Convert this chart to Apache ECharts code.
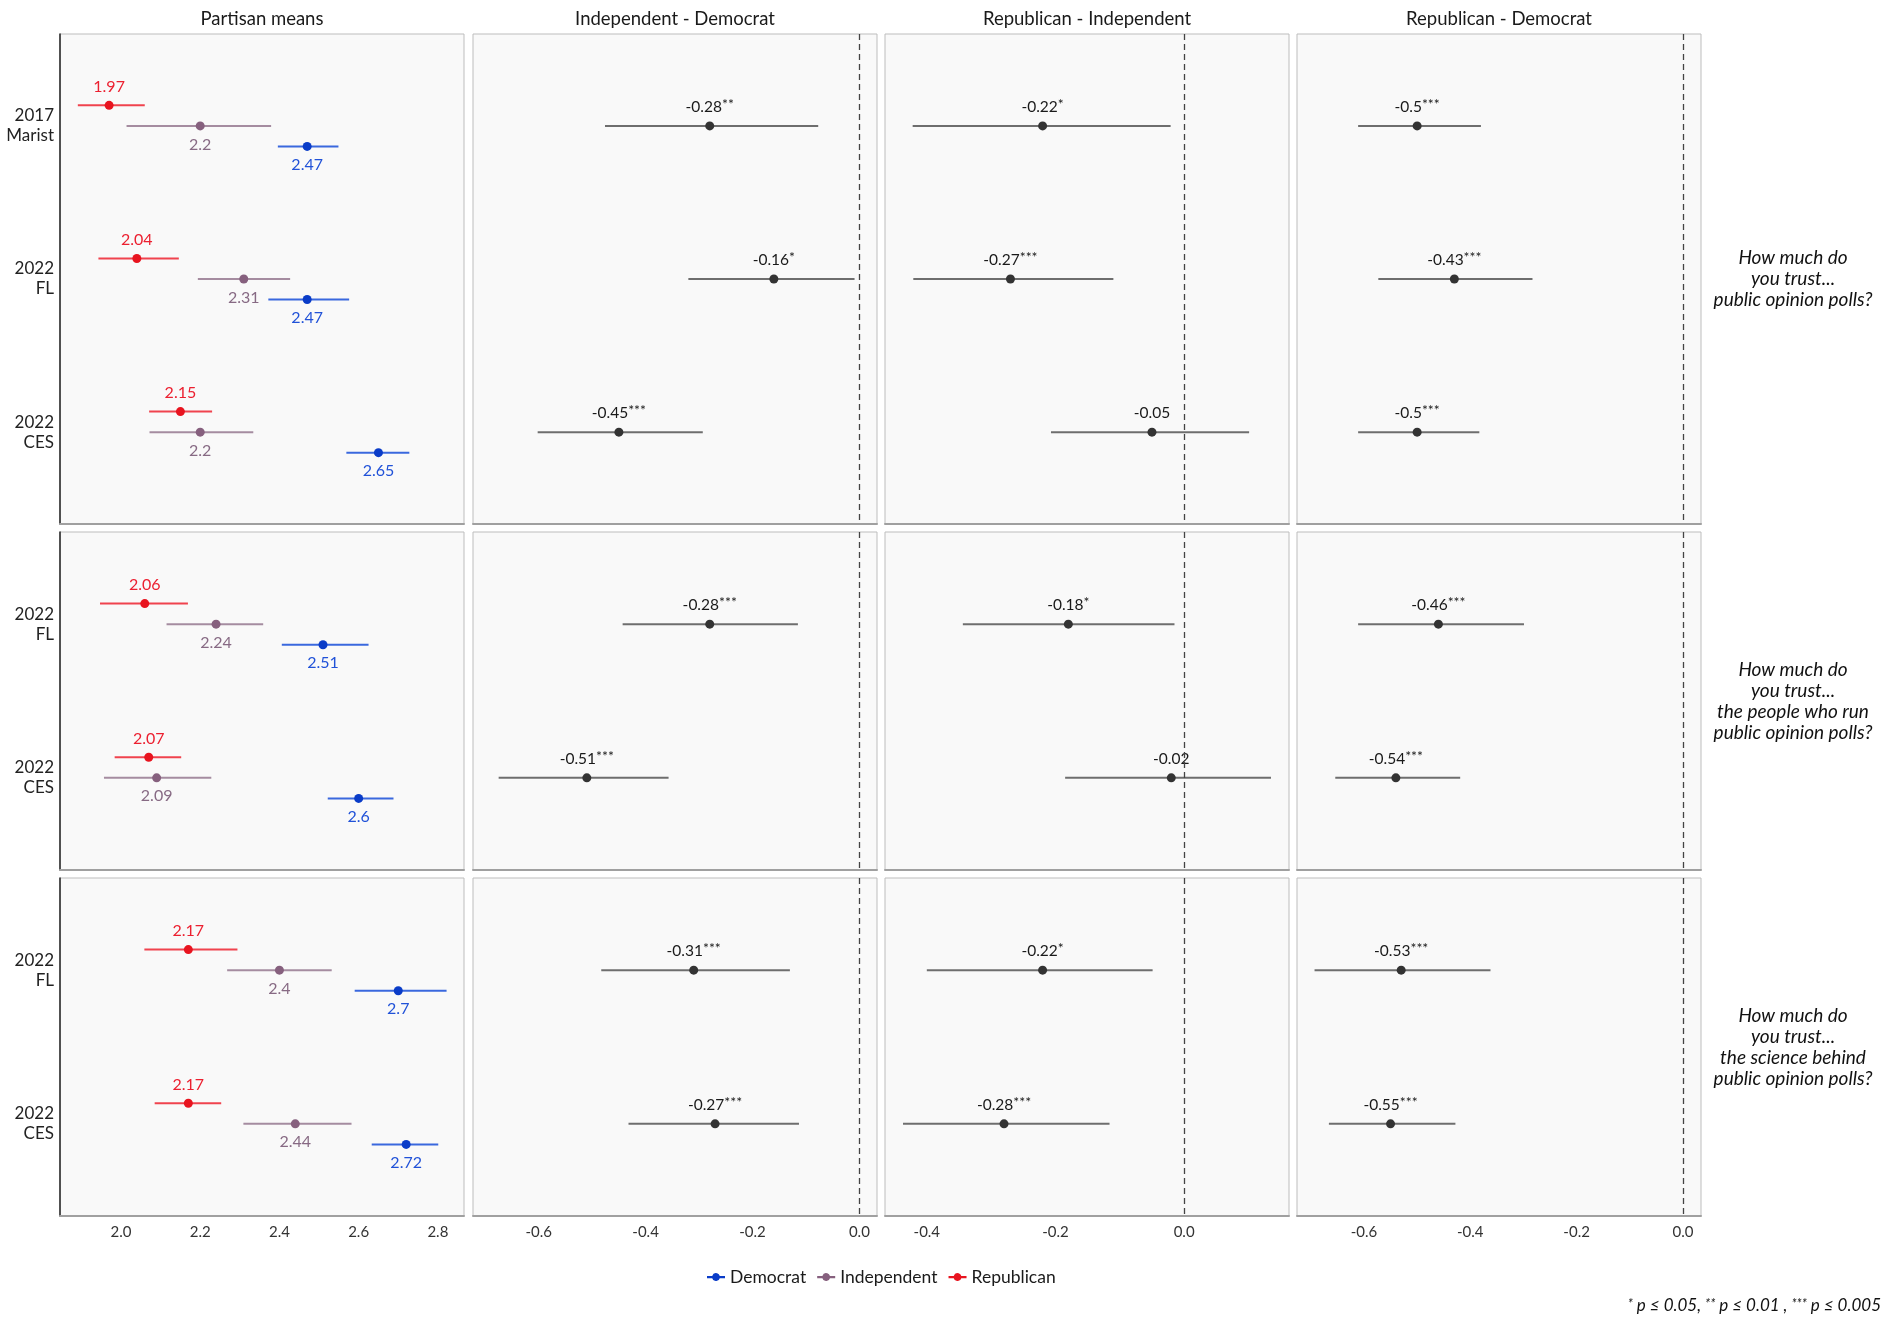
<!DOCTYPE html>
<html>
<head>
<meta charset="utf-8">
<script src="https://cdn.jsdelivr.net/npm/echarts@6/dist/echarts.min.js"></script>
<style>
html, body { margin: 0; background: #fff; }
#chart { width: 1883px; height: 1322px; }
</style>
</head>
<body>
<div id="chart"></div>
<script>
var chart = echarts.init(document.getElementById('chart'));

// ---- data ----
var facetTitles = ['Partisan means', 'Independent - Democrat', 'Republican - Independent', 'Republican - Democrat'];
var questions = [
    'How much do\nyou trust...\npublic opinion polls?',
    'How much do\nyou trust...\nthe people who run\npublic opinion polls?',
    'How much do\nyou trust...\nthe science behind\npublic opinion polls?'
];
var rowCats = [
    ['2017\nMarist', '2022\nFL', '2022\nCES'],
    ['2022\nFL', '2022\nCES'],
    ['2022\nFL', '2022\nCES']
];
var parties = ['Democrat', 'Independent', 'Republican'];

var demMean = [[2.47, 2.47, 2.65], [2.51, 2.6], [2.7, 2.72]];
var demLo   = [[2.396, 2.372, 2.569], [2.406, 2.522], [2.590, 2.633]];
var demHi   = [[2.549, 2.576, 2.728], [2.625, 2.688], [2.822, 2.801]];

var indMean = [[2.2, 2.31, 2.2], [2.24, 2.09], [2.4, 2.44]];
var indLo   = [[2.014, 2.194, 2.072], [2.115, 1.957], [2.268, 2.309]];
var indHi   = [[2.379, 2.427, 2.334], [2.359, 2.228], [2.532, 2.582]];

var repMean = [[1.97, 2.04, 2.15], [2.06, 2.07], [2.17, 2.17]];
var repLo   = [[1.891, 1.943, 2.071], [1.947, 1.984], [2.059, 2.085]];
var repHi   = [[2.060, 2.146, 2.230], [2.169, 2.152], [2.294, 2.253]];

var indDemEst   = [[-0.28, -0.16, -0.45], [-0.28, -0.51], [-0.31, -0.27]];
var indDemLo    = [[-0.476, -0.320, -0.602], [-0.443, -0.675], [-0.483, -0.432]];
var indDemHi    = [[-0.077, -0.009, -0.293], [-0.115, -0.357], [-0.130, -0.113]];
var indDemStars = [['**', '*', '***'], ['***', '***'], ['***', '***']];

var repIndEst   = [[-0.22, -0.27, -0.05], [-0.18, -0.02], [-0.22, -0.28]];
var repIndLo    = [[-0.422, -0.421, -0.207], [-0.344, -0.185], [-0.400, -0.437]];
var repIndHi    = [[-0.021, -0.110, 0.101], [-0.015, 0.135], [-0.049, -0.116]];
var repIndStars = [['*', '***', ''], ['*', ''], ['*', '***']];

var repDemEst   = [[-0.5, -0.43, -0.5], [-0.46, -0.54], [-0.53, -0.55]];
var repDemLo    = [[-0.611, -0.573, -0.611], [-0.611, -0.654], [-0.693, -0.666]];
var repDemHi    = [[-0.380, -0.283, -0.383], [-0.299, -0.419], [-0.362, -0.428]];
var repDemStars = [['***', '***', '***'], ['***', '***'], ['***', '***']];

var xTicks = [
    [2.0, 2.2, 2.4, 2.6, 2.8],
    [-0.6, -0.4, -0.2, 0.0],
    [-0.4, -0.2, 0.0],
    [-0.6, -0.4, -0.2, 0.0]
];

// ---- layout / style ----
var FONT = 'Lato';
var panelLeft = [60, 473, 885, 1297], panelWidth = 404;
var panelTop = [34, 532, 878], panelHeight = [490, 338, 338];
var xMin = [1.846, -0.723, -0.465, -0.726];
var xMax = [2.866, 0.033, 0.163, 0.034];
var dodge = 0.134;

var partyStyle = {
    Democrat:    { point: '#0a3cc8', line: '#3a68de', text: '#2152d8', offset: dodge, pos: 'bottom' },
    Independent: { point: '#86607e', line: '#a58ca0', text: '#876a84', offset: 0, pos: 'bottom' },
    Republican:  { point: '#e8141f', line: '#f0434e', text: '#ec2030', offset: -dodge, pos: 'top' }
};
var partyMean = { Democrat: demMean, Independent: indMean, Republican: repMean };
var partyLo = { Democrat: demLo, Independent: indLo, Republican: repLo };
var partyHi = { Democrat: demHi, Independent: indHi, Republican: repHi };

var diffs = [
    { est: indDemEst, lo: indDemLo, hi: indDemHi, stars: indDemStars },
    { est: repIndEst, lo: repIndLo, hi: repIndHi, stars: repIndStars },
    { est: repDemEst, lo: repDemLo, hi: repDemHi, stars: repDemStars }
];

function rangeRenderer(color) {
    return function (params, api) {
        var y = api.value(2);
        var a = api.coord([api.value(0), y]);
        var b = api.coord([api.value(1), y]);
        return {
            type: 'line',
            shape: { x1: a[0], y1: a[1], x2: b[0], y2: b[1] },
            style: { stroke: color, lineWidth: 2 }
        };
    };
}

var grid = [], xAxis = [], yAxis = [], series = [];

for (var r = 0; r < 3; r++) {
    var cats = rowCats[r];
    for (var c = 0; c < 4; c++) {
        var g = r * 4 + c;
        grid.push({
            left: panelLeft[c], top: panelTop[r], width: panelWidth, height: panelHeight[r],
            show: true, backgroundColor: '#f9f9f9', borderColor: '#bdbdbd', borderWidth: 1
        });
        xAxis.push({
            gridIndex: g, type: 'value', min: xMin[c], max: xMax[c],
            splitLine: { show: false }, axisTick: { show: false },
            axisLine: { show: true, onZero: false, lineStyle: { color: '#a0a0a0', width: 2 } },
            axisLabel: {
                show: r === 2, customValues: xTicks[c], margin: 9,
                fontFamily: FONT, fontSize: 15, color: '#333',
                formatter: function (v) { return v.toFixed(1); }
            }
        });
        yAxis.push({
            gridIndex: g, type: 'value', inverse: true, min: 0.4, max: cats.length + 0.6,
            splitLine: { show: false }, axisTick: { show: false },
            axisLine: { show: c === 0, onZero: false, lineStyle: { color: '#222', width: 1.5 } },
            axisLabel: {
                show: c === 0, customValues: cats.map(function (d, i) { return i + 1; }),
                margin: 6, fontFamily: FONT, fontSize: 17, lineHeight: 20, color: '#222',
                formatter: (function (cs) {
                    return function (v) { return cs[Math.round(v) - 1] || ''; };
                })(cats)
            }
        });

        if (c === 0) {
            parties.forEach(function (p) {
                var st = partyStyle[p];
                series.push({
                    type: 'custom', xAxisIndex: g, yAxisIndex: g, silent: true, z: 2,
                    renderItem: rangeRenderer(st.line),
                    encode: { x: [0, 1], y: 2 },
                    data: cats.map(function (d, i) {
                        return [partyLo[p][r][i], partyHi[p][r][i], i + 1 + st.offset];
                    })
                });
                series.push({
                    name: p, type: 'scatter', xAxisIndex: g, yAxisIndex: g, z: 3,
                    symbolSize: 9, itemStyle: { color: st.point, opacity: 1 },
                    label: {
                        show: true, position: st.pos, distance: 6,
                        fontFamily: FONT, fontSize: 16, color: st.text,
                        formatter: function (prm) { return String(prm.value[0]); }
                    },
                    data: partyMean[p][r].map(function (m, i) { return [m, i + 1 + st.offset]; })
                });
            });
        } else {
            var d = diffs[c - 1];
            series.push({
                type: 'custom', xAxisIndex: g, yAxisIndex: g, silent: true, z: 2,
                renderItem: rangeRenderer('#6e6e6e'),
                encode: { x: [0, 1], y: 2 },
                data: cats.map(function (x, i) { return [d.lo[r][i], d.hi[r][i], i + 1]; })
            });
            series.push({
                type: 'scatter', xAxisIndex: g, yAxisIndex: g, z: 3,
                symbolSize: 9, itemStyle: { color: '#333333', opacity: 1 },
                label: {
                    show: true, position: 'top', distance: 5,
                    formatter: (function (stars) {
                        return function (prm) {
                            var s = stars[prm.dataIndex];
                            return '{v|' + prm.value[0] + '}' + (s ? '{s|' + s + '}' : '');
                        };
                    })(d.stars[r]),
                    rich: {
                        v: { fontFamily: FONT, fontSize: 15.5, color: '#1a1a1a', lineHeight: 19 },
                        s: { fontFamily: FONT, fontSize: 14, color: '#1a1a1a', lineHeight: 12, verticalAlign: 'top' }
                    }
                },
                markLine: {
                    silent: true, symbol: 'none', label: { show: false },
                    lineStyle: { color: '#444', type: [6, 4], width: 1.3 },
                    data: [{ xAxis: 0 }]
                },
                data: d.est[r].map(function (m, i) { return [m, i + 1]; })
            });
        }
    }
}

var graphic = [];
facetTitles.forEach(function (t, c) {
    graphic.push({
        type: 'text', x: panelLeft[c] + panelWidth / 2, y: 19,
        style: { text: t, fontFamily: FONT, fontSize: 18.5, fill: '#1a1a1a', align: 'center', verticalAlign: 'middle' }
    });
});
questions.forEach(function (q, r) {
    graphic.push({
        type: 'text', x: 1793, y: panelTop[r] + panelHeight[r] / 2,
        style: {
            text: q, fontFamily: FONT, fontStyle: 'italic', fontSize: 19, lineHeight: 21,
            fill: '#111', align: 'center', verticalAlign: 'middle'
        }
    });
});
graphic.push({
    type: 'text', x: 1881, y: 1306,
    style: {
        text: '{s|*} p ≤ 0.05, {s|**} p ≤ 0.01 , {s|***} p ≤ 0.005',
        fontFamily: FONT, fontStyle: 'italic', fontSize: 17, fill: '#111',
        align: 'right', verticalAlign: 'middle',
        rich: {
            s: { fontFamily: FONT, fontStyle: 'italic', fontSize: 13, fill: '#111', verticalAlign: 'top', lineHeight: 11 }
        }
    }
});

var icon = 'path://M0,4H4.646A3.5,3.5,0,0,1,11.354,4H16V6H11.354A3.5,3.5,0,0,1,4.646,6H0Z';

var option = {
    backgroundColor: '#ffffff',
    animation: false,
    textStyle: { fontFamily: FONT },
    grid: grid,
    xAxis: xAxis,
    yAxis: yAxis,
    legend: {
        left: 702, top: 1263, itemWidth: 18, itemHeight: 11, itemGap: 11,
        selectedMode: false,
        textStyle: { fontFamily: FONT, fontSize: 17.5, color: '#1a1a1a' },
        data: parties.map(function (p) { return { name: p, icon: icon }; })
    },
    graphic: graphic,
    series: series
};
chart.setOption(option);
</script>
</body>
</html>
